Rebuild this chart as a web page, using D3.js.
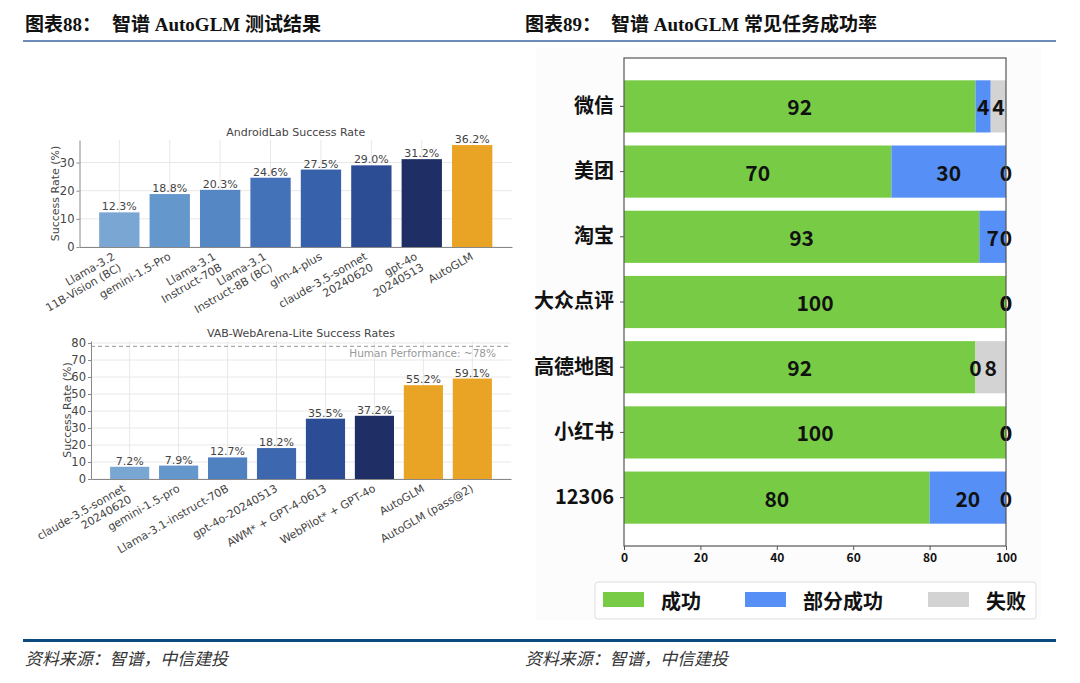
<!DOCTYPE html>
<html><head><meta charset="utf-8">
<script src="https://cdn.jsdelivr.net/npm/d3@7"></script>
<style>body{margin:0;background:#fff}svg{display:block}</style>
</head><body><svg id="c" width="1080" height="683"></svg>
<script>
// ---------- data ----------
const androidModels = ["Llama-3.2\n11B-Vision (BC)","gemini-1.5-Pro","Llama-3.1\nInstruct-70B","Llama-3.1\nInstruct-8B (BC)","glm-4-plus","claude-3.5-sonnet\n20240620","gpt-4o\n20240513","AutoGLM"];
const androidRates = [12.3,18.8,20.3,24.6,27.5,29.0,31.2,36.2];
const androidTicks = [0,10,20,30];
const webModels = ["claude-3.5-sonnet\n20240620","gemini-1.5-pro","Llama-3.1-instruct-70B","gpt-4o-20240513","AWM* + GPT-4-0613","WebPilot* + GPT-4o","AutoGLM","AutoGLM (pass@2)"];
const webRates = [7.2,7.9,12.7,18.2,35.5,37.2,55.2,59.1];
const webTicks = [0,10,20,30,40,50,60,70,80];
const humanPerf = 78;
const apps = ["微信","美团","淘宝","大众点评","高德地图","小红书","12306"];
const appSuccess = [92,70,93,100,92,100,80];
const appPartial = [4,30,7,0,0,0,20];
const appFail = [4,0,0,0,8,0,0];
const appTicks = [0,20,40,60,80,100];
const legendLabels = ["成功","部分成功","失败"];

// ---------- styles ----------
const androidColors = ["#7aa6d4","#6497cc","#5587c4","#4472b8","#3761aa","#2c4d93","#1f2f66","#e9a426"];
const webColors = ["#7aa6d4","#6497cc","#4f80c0","#3d68b0","#2c4d96","#1f2f66","#e9a426","#e9a426"];
const stackColors = ["#78cc45","#5690f6","#d3d3d3"];
const mplFont = "'DejaVu Sans', sans-serif";
const cjkFont = "'Noto Sans CJK SC', 'Noto Sans', sans-serif";

const svg = d3.select("#c");
svg.append("rect").attr("width",1080).attr("height",683).attr("fill","#fff");

// ---------- headers ----------
const titleFont = "'Liberation Serif', 'Noto Sans CJK SC', serif";
function header(x1, x2, a, b){
  svg.append("text").attr("x",x1).attr("y",31).attr("font-family",titleFont).attr("font-weight","bold")
    .attr("font-size",19).attr("fill","#111").text(a);
  svg.append("text").attr("x",x2).attr("y",31).attr("font-family",titleFont).attr("font-weight","bold")
    .attr("font-size",19).attr("fill","#111").text(b);
}
header(25,112,"图表88：","智谱 AutoGLM 测试结果");
header(525,611,"图表89：","智谱 AutoGLM 常见任务成功率");
svg.append("line").attr("x1",23).attr("x2",1056).attr("y1",41).attr("y2",41).attr("stroke","#3b64a0").attr("stroke-width",1.6);

// footer
svg.append("line").attr("x1",23).attr("x2",1056).attr("y1",640.5).attr("y2",640.5).attr("stroke","#0b4a7e").attr("stroke-width",3.2);
[25,525].forEach(x=>{
  svg.append("text").attr("x",x).attr("y",665).attr("font-family",cjkFont).attr("font-style","italic")
    .attr("font-size",17).attr("fill","#333").attr("textLength",203).attr("lengthAdjust","spacingAndGlyphs")
    .text("资料来源：智谱，中信建投");
});

// ---------- left bar charts ----------
function barChart(o){
  const g = svg.append("g");
  const n = o.names.length;
  const x = d3.scaleBand().domain(d3.range(n)).range([o.x0,o.x1]).paddingInner(0.2).paddingOuter(0.39);
  const y = d3.scaleLinear().domain([0,o.ymax]).range([o.yb,o.yt]);
  // grid
  g.append("g").selectAll("line").data(o.ticks).join("line")
    .attr("x1",o.x0).attr("x2",o.x1).attr("y1",d=>y(d)).attr("y2",d=>y(d))
    .attr("stroke","#e8e8e8").attr("stroke-width",1);
  g.append("g").selectAll("line").data(d3.range(n)).join("line")
    .attr("x1",i=>x(i)+x.bandwidth()/2).attr("x2",i=>x(i)+x.bandwidth()/2)
    .attr("y1",o.yb).attr("y2",o.yt).attr("stroke","#e8e8e8").attr("stroke-width",1);
  if(o.ref!==undefined){
    g.append("line").attr("x1",o.x0).attr("x2",o.x1).attr("y1",y(o.ref)).attr("y2",y(o.ref))
      .attr("stroke","#aaa").attr("stroke-width",1.2).attr("stroke-dasharray","4,3");
    g.append("text").attr("x",o.x1-15).attr("y",y(o.ref)+11).attr("text-anchor","end")
      .attr("font-family",mplFont).attr("font-size",10.5).attr("fill","#999").text(o.refLabel);
  }
  // bars
  g.append("g").selectAll("rect").data(o.values).join("rect")
    .attr("x",(d,i)=>x(i)).attr("width",x.bandwidth())
    .attr("y",d=>y(d)).attr("height",d=>y(0)-y(d))
    .attr("fill",(d,i)=>o.colors[i]);
  // value labels
  g.append("g").selectAll("text").data(o.values).join("text")
    .attr("x",(d,i)=>x(i)+x.bandwidth()/2).attr("y",d=>y(d)-2)
    .attr("text-anchor","middle").attr("font-family",mplFont).attr("font-size",11).attr("fill","#444")
    .text(d=>d.toFixed(1)+"%");
  // y axis
  const ya = g.append("g").attr("transform",`translate(${o.x0},0)`)
    .call(d3.axisLeft(y).tickValues(o.ticks).tickSize(3).tickSizeOuter(0).tickPadding(2));
  ya.select(".domain").attr("stroke","#888");
  ya.selectAll(".tick line").attr("stroke","#888");
  ya.selectAll(".tick text").attr("font-family",mplFont).attr("font-size",11.5).attr("fill","#444");
  // x axis
  const xa = g.append("g").attr("transform",`translate(0,${o.yb})`)
    .call(d3.axisBottom(x).tickSize(0).tickSizeOuter(0).tickFormat(""));
  xa.select(".domain").attr("stroke","#888");
  // rotated x labels
  o.names.forEach((name,i)=>{
    const lines = name.split("\n");
    const cx = x(i)+x.bandwidth()/2 - (lines.length===1?2.5:8);
    const t = g.append("text").attr("transform",`translate(${cx},${o.yb+4}) rotate(-30)`)
      .attr("text-anchor","end").attr("font-family",mplFont).attr("font-size",11).attr("fill","#444");
    lines.forEach((l,k)=>t.append("tspan").attr("x",0).attr("dy",k===0?"0.8em":"1.15em").text(l));
  });
  // title and y label
  g.append("text").attr("x",(o.x0+o.x1)/2).attr("y",o.titleY).attr("text-anchor","middle")
    .attr("font-family",mplFont).attr("font-size",11).attr("fill","#444").text(o.title);
  g.append("text").attr("transform",`translate(${o.ylabX},${(o.yb+o.yt)/2}) rotate(-90)`)
    .attr("text-anchor","middle").attr("font-family",mplFont).attr("font-size",11).attr("fill","#444")
    .text("Success Rate (%)");
}

barChart({names:androidModels, values:androidRates, ticks:androidTicks, colors:androidColors,
  x0:79.5, x1:512, yb:247, yt:140, ymax:38.0, titleY:136, ylabX:59, title:"AndroidLab Success Rate"});
barChart({names:webModels, values:webRates, ticks:webTicks, colors:webColors,
  x0:91, x1:511, yb:479, yt:341, ymax:81.2, titleY:337, ylabX:71, title:"VAB-WebArena-Lite Success Rates",
  ref:humanPerf, refLabel:"Human Performance: ~78%"});

// ---------- right stacked bar chart ----------
const rp = {x0:624, x1:1006, y0:58, y1:546};
svg.append("rect").attr("x",536).attr("y",48).attr("width",505).attr("height",572).attr("fill","#fcfcfc");
svg.append("rect").attr("x",rp.x0).attr("y",rp.y0).attr("width",rp.x1-rp.x0).attr("height",rp.y1-rp.y0).attr("fill","#fff");
const xs = d3.scaleLinear().domain([0,100]).range([rp.x0,rp.x1]);
const ys = d3.scaleBand().domain(apps).range([rp.y0,rp.y1]).paddingInner(0.2).paddingOuter(0.342);
const rows = apps.map((a,i)=>({app:a, s:appSuccess[i], p:appPartial[i], f:appFail[i]}));
const stack = d3.stack().keys(["s","p","f"])(rows);
const rg = svg.append("g");
stack.forEach((layer,li)=>{
  rg.append("g").selectAll("rect").data(layer).join("rect")
    .attr("x",d=>xs(d[0])).attr("width",d=>xs(d[1])-xs(d[0]))
    .attr("y",d=>ys(d.data.app)).attr("height",ys.bandwidth())
    .attr("fill",stackColors[li]);
});
stack.forEach((layer,li)=>{
  rg.append("g").selectAll("text").data(layer).join("text")
    .attr("x",d=>xs((d[0]+d[1])/2)).attr("y",d=>ys(d.data.app)+ys.bandwidth()/2)
    .attr("text-anchor","middle").attr("dominant-baseline","central")
    .attr("font-family",cjkFont).attr("font-weight","bold").attr("font-size",21).attr("fill","#111")
    .text(d=>d[1]-d[0]);
});
// frame
svg.append("rect").attr("x",rp.x0).attr("y",rp.y0).attr("width",rp.x1-rp.x0).attr("height",rp.y1-rp.y0)
  .attr("fill","none").attr("stroke","#555").attr("stroke-width",1.2);
// x axis
const rxa = svg.append("g").attr("transform",`translate(0,${rp.y1})`)
  .call(d3.axisBottom(xs).tickValues(appTicks).tickSize(4).tickSizeOuter(0).tickPadding(3));
rxa.select(".domain").remove();
rxa.selectAll(".tick line").attr("stroke","#555");
rxa.selectAll(".tick text").attr("font-family",cjkFont).attr("font-weight","bold").attr("font-size",12).attr("fill","#111");
// y axis
const rya = svg.append("g").attr("transform",`translate(${rp.x0},0)`)
  .call(d3.axisLeft(ys).tickSize(4).tickSizeOuter(0).tickPadding(6));
rya.select(".domain").remove();
rya.selectAll(".tick line").attr("stroke","#555");
rya.selectAll(".tick text").attr("font-family",cjkFont).attr("font-weight","bold").attr("font-size",20).attr("fill","#111");

// legend
const lg = svg.append("g");
lg.append("rect").attr("x",595).attr("y",582).attr("width",441).attr("height",37).attr("rx",3)
  .attr("fill","#fff").attr("stroke","#ddd").attr("stroke-width",1);
const legX = [603,745,928];
legendLabels.forEach((l,i)=>{
  lg.append("rect").attr("x",legX[i]).attr("y",592).attr("width",41).attr("height",15).attr("fill",stackColors[i]);
  lg.append("text").attr("x",legX[i]+58).attr("y",600).attr("dominant-baseline","central")
    .attr("font-family",cjkFont).attr("font-weight","bold").attr("font-size",20).attr("fill","#111").text(l);
});
</script></body></html>
